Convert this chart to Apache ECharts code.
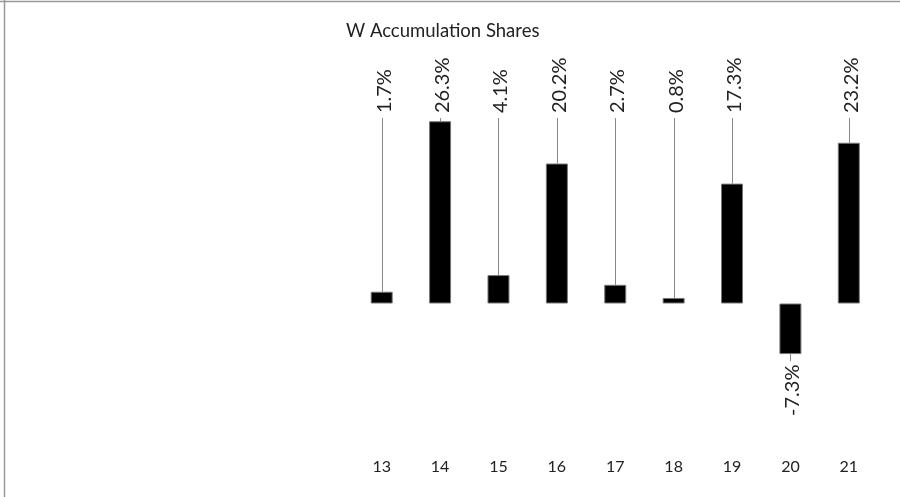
<!DOCTYPE html>
<html>
<head>
<meta charset="utf-8">
<script src="https://cdn.jsdelivr.net/npm/echarts@6/dist/echarts.min.js"></script>
<style>
html,body{margin:0;padding:0;background:#fff;}
#chart{width:900px;height:497px;}
</style>
</head>
<body>
<div id="chart"></div>
<script>
const categories = ['13', '14', '15', '16', '17', '18', '19', '20', '21'];
const values = [1.7, 26.3, 4.1, 20.2, 2.7, 0.8, 17.3, -7.3, 23.2];
const titleText = 'W Accumulation Shares';

const FONT = 'Lato';
const chart = echarts.init(document.getElementById('chart'));

chart.setOption({
  animation: false,
  backgroundColor: '#fff',
  title: {
    text: titleText,
    left: 341,
    top: 17,
    textStyle: { fontFamily: FONT, fontSize: 18.5, fontWeight: 'normal', color: '#222' }
  },
  graphic: [
    { type: 'line', shape: { x1: 0, y1: 1.5, x2: 900, y2: 1.5 }, style: { stroke: '#999', lineWidth: 1.5 } },
    { type: 'line', shape: { x1: 4.5, y1: 0, x2: 4.5, y2: 497 }, style: { stroke: '#999', lineWidth: 1.5 } }
  ],
  grid: { left: 352.5, right: 22, top: 95.6, bottom: 124.2 },
  xAxis: {
    type: 'category',
    data: categories,
    axisLine: { show: false },
    axisTick: { show: false },
    axisLabel: { margin: 86, fontFamily: FONT, fontSize: 16, color: '#222' }
  },
  yAxis: {
    type: 'value',
    min: -10,
    max: 30,
    show: false,
    splitLine: { show: false }
  },
  series: [
    {
      type: 'bar',
      data: values,
      barWidth: 22,
      itemStyle: { color: '#000', borderColor: '#777', borderWidth: 1 }
    },
    {
      type: 'custom',
      data: values.map((v, i) => [i, v]),
      renderItem: function (params, api) {
        const i = api.value(0);
        const v = api.value(1);
        const end = api.coord([i, v]);
        const x = Math.round(end[0]) + 0.5;
        const top = params.coordSys.y;
        const pos = v >= 0;
        const lineEnd = pos ? top + 22.4 : end[1] + 7;
        const textY = pos ? top + 17.5 : end[1] + 10.5;
        return {
          type: 'group',
          children: [
            {
              type: 'line',
              shape: { x1: x, y1: pos ? lineEnd : end[1], x2: x, y2: pos ? end[1] : lineEnd },
              style: { stroke: '#888', lineWidth: 1 }
            },
            {
              type: 'text',
              x: x + 2,
              y: textY,
              rotation: Math.PI / 2,
              style: {
                text: v.toFixed(1) + '%',
                fontFamily: FONT,
                fontSize: 20,
                fill: '#222',
                align: pos ? 'left' : 'right',
                verticalAlign: 'middle'
              }
            }
          ]
        };
      }
    }
  ]
});
</script>
</body>
</html>
